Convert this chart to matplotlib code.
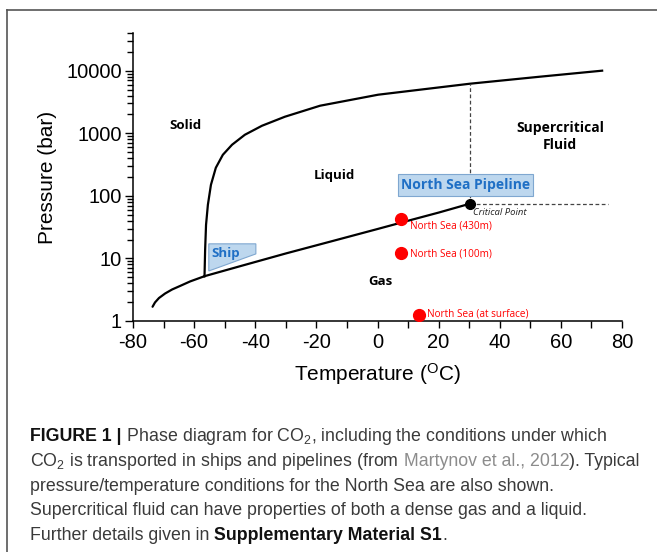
"""CO2 phase diagram with North Sea transport conditions."""
import numpy as np
import matplotlib
matplotlib.use("Agg")
import matplotlib.pyplot as plt
from matplotlib.patches import Rectangle, Polygon
from matplotlib.lines import Line2D

plt.rcParams["font.family"] = "Liberation Sans"
plt.rcParams["axes.unicode_minus"] = False
plt.rcParams["mathtext.fontset"] = "custom"
plt.rcParams["mathtext.rm"] = "Liberation Sans"
plt.rcParams["mathtext.it"] = "Liberation Sans:italic"
plt.rcParams["mathtext.bf"] = "Liberation Sans:bold"

# phase boundaries (temperature degC, pressure bar)
sub_t = [-73.6, -72.8, -71.5, -69.5, -67.2, -64.6, -61.3, -56.6]
sub_p = [1.69, 1.98, 2.33, 2.75, 3.19, 3.63, 4.29, 5.2]

vap_t = [-56.6, -45, -30, -15, 0, 10, 20, 30.3]
vap_p = [5.2, 7.5, 12.0, 18.8, 29.5, 40.0, 54.0, 75.0]

melt_t = [-56.6, -56.4, -56.1, -55.5, -54.5, -52.9, -50.6, -47.6, -43.4,
          -37.8, -30.3, -18.8, 0.2, 30.3, 53.2, 73.5]
melt_p = [5.2, 13.7, 34.4, 71.8, 150, 281, 453, 655, 946,
          1318, 1837, 2754, 4130, 6194, 8017, 10000]

crit_t, crit_p = 30.3, 75.0
crit_dash_top = 6194
crit_dash_right = 75.5

# North Sea conditions
ns_labels = ["North Sea (430m)", "North Sea (100m)", "North Sea (at surface)"]
ns_t = [7.8, 7.8, 13.5]
ns_p = [42.0, 12.1, 1.25]
ns_lab_p = [33.5, 11.9, 1.29]

region_labels = ["Solid", "Liquid", "Gas", "Supercritical\nFluid"]
region_t = [-63, -14, 1, 59.7]
region_p = [1350, 215, 4.2, 880]

# transport zones
pipe_t = (6.7, 50.9)
pipe_p = (100, 225)
ship_t = [-55.2, -39.8, -39.8, -55.2]
ship_p = [17.1, 17.1, 11.8, 6.3]

W, H = 657, 552
fig = plt.figure(figsize=(W / 100, H / 100), dpi=100)
ax = fig.add_axes([133 / W, 1 - 321 / H, (622 - 133) / W, (321 - 33) / H])

lw = 1.6
ax.plot(sub_t, sub_p, color="black", lw=lw, solid_capstyle="round",
        solid_joinstyle="round")
ax.plot(vap_t, vap_p, color="black", lw=lw, solid_joinstyle="round")
ax.plot(melt_t, melt_p, color="black", lw=lw, solid_joinstyle="round")

ax.plot([crit_t, crit_t], [crit_p, crit_dash_top], color="#444444", lw=0.9,
        ls=(0, (3, 2)))
ax.plot([crit_t, crit_dash_right], [crit_p, crit_p], color="#444444", lw=0.9,
        ls=(0, (3, 2)))
ax.plot([crit_t], [crit_p], "o", color="black", ms=7, zorder=5)
ax.text(crit_t + 1, 53.5, "Critical Point", fontsize=6.8, style="italic",
        family="Open Sans", color="#222222", va="center", ha="left")

ax.plot(ns_t, ns_p, "o", color="#ff0000", ms=8.5, zorder=5)
for lab, t, p in zip(ns_labels, ns_t, ns_lab_p):
    ax.text(t + 2.8, p, lab, fontsize=7.2, color="#ff0000", family="Open Sans",
            va="center", ha="left")

for lab, t, p in zip(region_labels, region_t, region_p):
    size = 10 if "Fluid" in lab else 9.5
    ax.text(t, p, lab, fontsize=size, fontweight="bold", family="Open Sans",
            ha="center", va="center", multialignment="center", linespacing=1.3)

ax.add_patch(Rectangle((pipe_t[0], pipe_p[0]), pipe_t[1] - pipe_t[0],
                       pipe_p[1] - pipe_p[0], facecolor="#bdd7ee",
                       edgecolor="#7fa7d0", lw=0.8, zorder=3))
ax.text(np.mean(pipe_t), 150, "North Sea Pipeline", fontsize=10,
        fontweight="bold", family="Open Sans", color="#1f6fc5",
        ha="center", va="center", zorder=4)

ax.add_patch(Polygon(list(zip(ship_t, ship_p)), closed=True,
                     facecolor="#bdd7ee", edgecolor="#7fa7d0", lw=0.8, zorder=3))
ax.text(-49.6, 11.8, "Ship", fontsize=9.5, fontweight="bold",
        family="Open Sans", color="#1f6fc5", ha="center", va="center", zorder=4)

ax.set_yscale("log")
ax.set_xlim(-80, 80)
ax.set_ylim(1, 4e4)
ax.set_xticks(np.arange(-80, 81, 20))
ax.set_xticks(np.arange(-70, 80, 20), minor=True)
ax.set_yticks([1, 10, 100, 1000, 10000])
ax.set_yticklabels(["1", "10", "100", "1000", "10000"])
ax.tick_params(axis="both", which="both", direction="out", width=1.0,
               labelsize=14.5, color="black")
ax.tick_params(axis="x", which="both", length=5, pad=4)
ax.tick_params(axis="y", which="major", length=6, pad=2)
ax.tick_params(axis="y", which="minor", length=4)
for s in ["top", "right"]:
    ax.spines[s].set_visible(False)
for s in ["left", "bottom"]:
    ax.spines[s].set_linewidth(1.1)

ax.set_xlabel(r"Temperature ($^{\mathrm{O}}$C)", fontsize=15)
ax.set_ylabel("Pressure (bar)", fontsize=15)
ax.xaxis.set_label_coords(0.5, -0.14)
ax.yaxis.set_label_coords(-0.155, 0.5)

# frame around the whole figure (left and top edges visible)
fig.add_artist(Line2D([7 / W, 7 / W], [0, 1 - 10 / H], color="#555555", lw=1.2))
fig.add_artist(Line2D([7 / W, 1], [1 - 10 / H, 1 - 10 / H], color="#555555", lw=1.2))

# caption
renderer = fig.canvas.get_renderer()
cap = dict(fontsize=12.8, color="#3a3a3a", va="baseline", ha="left")


def rich_line(y_px, parts):
    x = 30 / W
    for txt, kw in parts:
        style = dict(cap)
        style.update(kw)
        t = fig.text(x, 1 - y_px / H, txt, **style)
        bb = t.get_window_extent(renderer)
        x = bb.x1 / W


rich_line(441, [("FIGURE 1 |", {"fontweight": "bold", "color": "#111111"}),
                (r" Phase diagram for CO$_2$, including the conditions under which", {})])
rich_line(466, [(r"CO$_2$ is transported in ships and pipelines (from", {}),
                (" Martynov et al., 2012", {"color": "#8c8c8c"}),
                ("). Typical", {})])
rich_line(491, [("pressure/temperature conditions for the North Sea are also shown.", {})])
rich_line(515, [("Supercritical fluid can have properties of both a dense gas and a liquid.", {})])
rich_line(540, [("Further details given in", {}),
                (" Supplementary Material S1", {"fontweight": "bold", "color": "#111111"}),
                (".", {})])

fig.savefig("out.png", dpi=100)
